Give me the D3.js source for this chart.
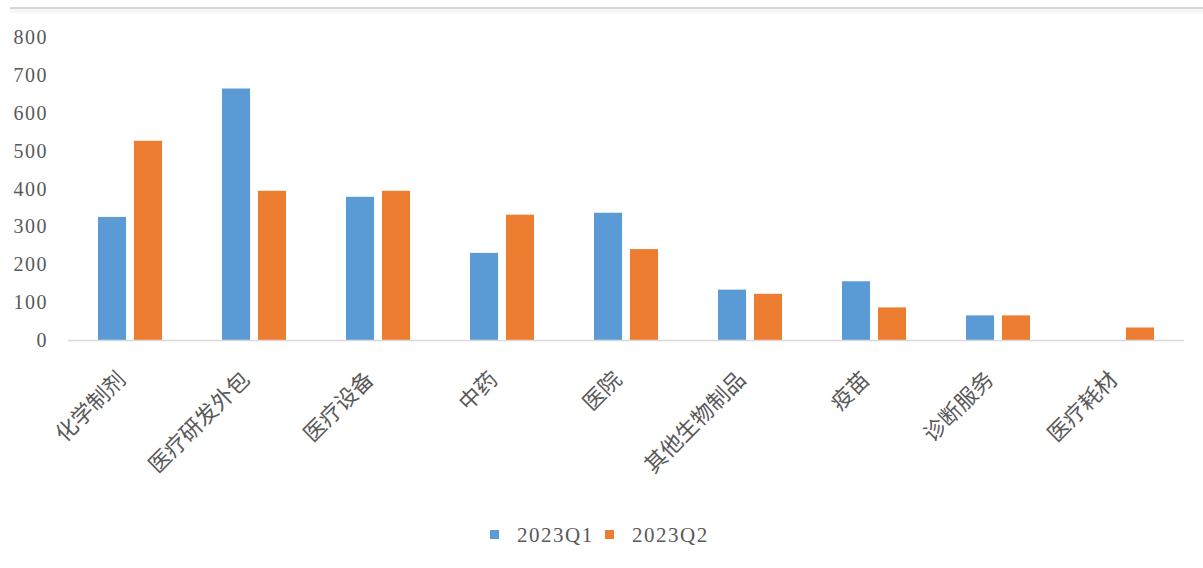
<!DOCTYPE html>
<html>
<head>
<meta charset="utf-8">
<script src="https://cdn.jsdelivr.net/npm/d3@7/dist/d3.min.js"></script>
<style>
  body { margin: 0; background: #fff; }
  svg { display: block; }
  .tick-label { font-family: "Liberation Serif", serif; fill: #595959; }
  .cat-label { font-family: "Noto Sans CJK SC", sans-serif; fill: #595959; }
</style>
</head>
<body>
<svg id="chart" width="1203" height="568"></svg>
<script>
// chart data
const categories = ["化学制剂", "医疗研发外包", "医疗设备", "中药", "医院", "其他生物制品", "疫苗", "诊断服务", "医疗耗材"];
const seriesNames = ["2023Q1", "2023Q2"];
const q1Values = [325, 664, 378, 230, 336, 133, 155, 65, 0];
const q2Values = [526, 394, 394, 331, 240, 122, 86, 65, 33];
const yTicks = [0, 100, 200, 300, 400, 500, 600, 700, 800];

const colors = { "2023Q1": "#5b9bd5", "2023Q2": "#ed7d31" };

let svg = d3.select("#chart");

// top border line
svg.append("rect").attr("x", 10).attr("y", 7).attr("width", 1193).attr("height", 2).attr("fill", "#d4d4d4");
svg.append("rect").attr("x", 10).attr("y", 9).attr("width", 1193).attr("height", 4).attr("fill", "#f6f6f6");

const x = d3.scaleBand().domain(categories).range([68, 1184]);
const xInner = d3.scaleBand().domain(seriesNames).range([-32, 32]).paddingInner(0.22);
const y = d3.scaleLinear().domain([0, 800]).range([340, 37]);

// y tick labels
svg.append("g").selectAll("text").data(yTicks)
  .join("text")
  .attr("class", "tick-label")
  .attr("x", 48)
  .attr("y", d => y(d))
  .attr("dy", "0.35em")
  .attr("text-anchor", "end")
  .style("font-size", "20px")
  .style("letter-spacing", "1.5px")
  .text(d => d);

// bars
const rows = categories.map((c, i) => ({ cat: c, vals: [q1Values[i], q2Values[i]] }));
let groups = svg.append("g").selectAll("g").data(rows)
  .join("g")
  .attr("transform", d => "translate(" + (x(d.cat) + x.bandwidth() / 2) + ",0)");

groups.selectAll("rect")
  .data(d => d.vals.map((v, j) => ({ name: seriesNames[j], v: v })))
  .join("rect")
  .attr("x", d => xInner(d.name))
  .attr("width", xInner.bandwidth())
  .attr("y", d => y(d.v))
  .attr("height", d => y(0) - y(d.v))
  .attr("fill", d => colors[d.name]);

// x axis line
svg.append("line")
  .attr("x1", 68).attr("x2", 1184)
  .attr("y1", y(0) + 0.5).attr("y2", y(0) + 0.5)
  .attr("stroke", "#d9d9d9").attr("stroke-width", 1.5);

// category labels, rotated
svg.append("g").selectAll("text").data(categories)
  .join("text")
  .attr("class", "cat-label")
  .attr("text-anchor", "end")
  .attr("transform", d => "translate(" + (x(d) + x.bandwidth() / 2 - 3) + ",381) rotate(-45)")
  .style("font-size", "22px")
  .text(d => d);

// legend
const legendX = [490, 605];
let legend = svg.append("g").selectAll("g").data(seriesNames)
  .join("g")
  .attr("transform", (d, i) => "translate(" + legendX[i] + ",530)");
legend.append("rect").attr("width", 9).attr("height", 9).attr("fill", d => colors[d]);
legend.append("text")
  .attr("class", "tick-label")
  .attr("x", 27).attr("y", 4.5).attr("dy", "0.35em")
  .style("font-size", "21px")
  .style("letter-spacing", "1.5px")
  .text(d => d);
</script>
</body>
</html>
